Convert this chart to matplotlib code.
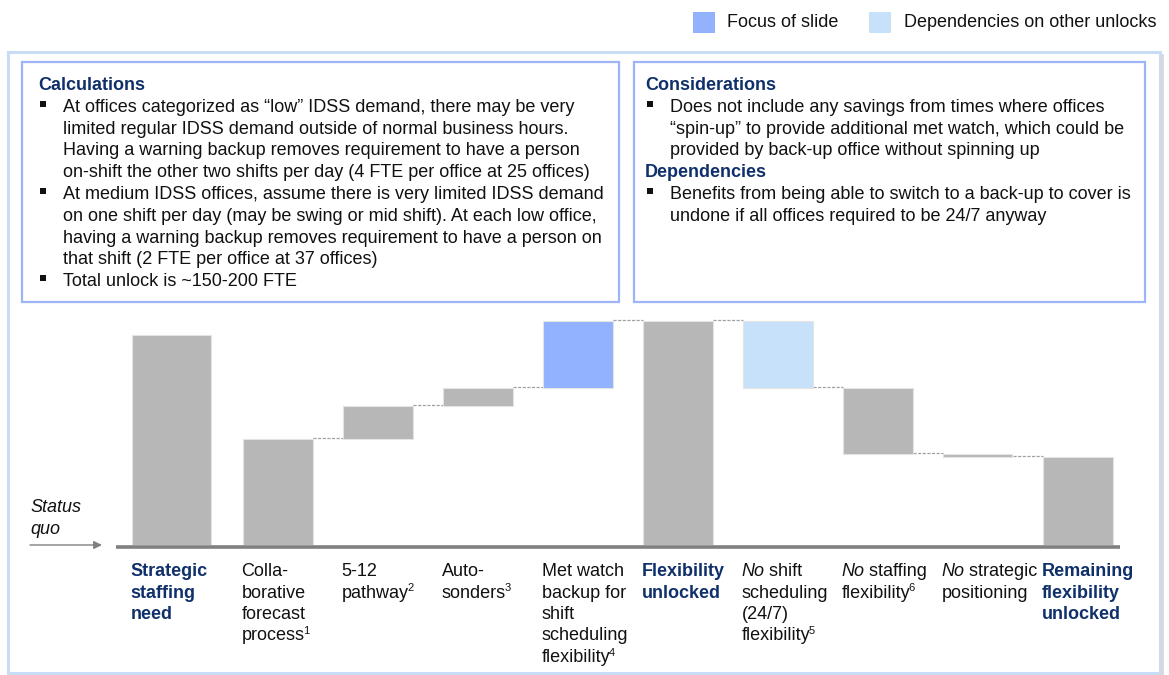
import matplotlib
matplotlib.use('Agg')
import matplotlib.pyplot as plt
from matplotlib.patches import Rectangle
import numpy as np

# ---------------- data ----------------
# "_No_" marks italic text, "^n" marks a footnote superscript
categories = [
    "Strategic\nstaffing\nneed",
    "Colla-\nborative\nforecast\nprocess^1",
    "5-12\npathway^2",
    "Auto-\nsonders^3",
    "Met watch\nbackup for\nshift\nscheduling\nflexibility^4",
    "Flexibility\nunlocked",
    "_No_ shift\nscheduling\n(24/7)\nflexibility^5",
    "_No_ staffing\nflexibility^6",
    "_No_ strategic\npositioning",
    "Remaining\nflexibility\nunlocked",
]
kinds = ["total", "total", "delta", "delta", "delta", "total", "delta", "delta", "delta", "total"]
values = [210, 106, 33, 18, 67, 224, -67, -66, -3, 88]
roles = ["base", "base", "base", "base", "focus", "base", "dependency", "base", "base", "base"]
bold_labels = [True, False, False, False, False, True, False, False, False, True]

legend_labels = ["Focus of slide", "Dependencies on other unlocks"]

calc_title = "Calculations"
calc_bullets = [
    ["At offices categorized as \u201clow\u201d IDSS demand, there may be very",
     "limited regular IDSS demand outside of normal business hours.",
     "Having a warning backup removes requirement to have a person",
     "on-shift the other two shifts per day (4 FTE per office at 25 offices)"],
    ["At medium IDSS offices, assume there is very limited IDSS demand",
     "on one shift per day (may be swing or mid shift). At each low office,",
     "having a warning backup removes requirement to have a person on",
     "that shift (2 FTE per office at 37 offices)"],
    ["Total unlock is ~150-200 FTE"],
]
cons_title = "Considerations"
cons_bullets = [
    ["Does not include any savings from times where offices",
     "\u201cspin-up\u201d to provide additional met watch, which could be",
     "provided by back-up office without spinning up"],
]
dep_title = "Dependencies"
dep_bullets = [
    ["Benefits from being able to switch to a back-up to cover is",
     "undone if all offices required to be 24/7 anyway"],
]

# ---------------- style ----------------
W, H = 1169, 675
plt.rcParams['font.family'] = ['Liberation Sans', 'DejaVu Sans']

NAVY = '#10306B'
TXT = '#111111'
GRAY = '#B7B7B7'
FOCUS = '#92B1FF'
DEP = '#C8E1FA'
role_color = {"base": GRAY, "focus": FOCUS, "dependency": DEP}
FS = 13

fig = plt.figure(figsize=(W / 100, H / 100), dpi=100)
ov = fig.add_axes([0, 0, 1, 1])
ov.set_xlim(0, W)
ov.set_ylim(H, 0)
ov.axis('off')
fig.canvas.draw()
renderer = fig.canvas.get_renderer()

# frames
ov.plot([1162, 1162], [55, 675], color='#D8D8D8', lw=2.0)
ov.add_patch(Rectangle((8, 52), 1152, 621, fill=False, ec='#C9DCF5', lw=2.2))
ov.add_patch(Rectangle((22, 62), 597, 240, fc='white', ec='#9DB5F7', lw=1.6))
ov.add_patch(Rectangle((634, 62), 511, 240, fc='white', ec='#9DB5F7', lw=1.6))

# legend
for (x0, tx), lab, col in zip([(693, 727), (869, 904)], legend_labels, [FOCUS, DEP]):
    ov.add_patch(Rectangle((x0, 12), 22, 21, fc=col, ec='none'))
    ov.text(tx, 22.5, lab, fontsize=FS, color=TXT, va='center', ha='left')

LS = 21.8
BASE_OFF = 6


def write_block(x_title, x_bul, x_txt, y, title, bullets):
    ov.text(x_title, y + BASE_OFF, title, fontsize=FS, color=NAVY, weight='bold',
            va='baseline', ha='left')
    y += LS
    for b in bullets:
        ov.add_patch(Rectangle((x_bul, y - 5), 6, 6, fc=TXT, ec='none'))
        for line in b:
            ov.text(x_txt, y + BASE_OFF, line, fontsize=FS, color=TXT,
                    va='baseline', ha='left')
            y += LS
    return y


write_block(38, 40, 63, 84, calc_title, calc_bullets)
yy = write_block(645, 647, 670, 84, cons_title, cons_bullets)
write_block(645, 647, 670, yy, dep_title, dep_bullets)

# ---------------- waterfall ----------------
n = len(values)
xpos = np.arange(n, dtype=float)
xpos[0] = -0.065
widths = np.full(n, 0.70)
widths[0] = 0.79

bottoms, heights, ends = [], [], []
level = 0.0
for k, v in zip(kinds, values):
    if k == "total":
        bottoms.append(0.0)
        heights.append(v)
        level = v
    else:
        bottoms.append(level)
        heights.append(v)
        level = level + v
    ends.append(level)

base_px, top_px = 545, 300
left_px, right_px = 116, 1120
ax = fig.add_axes([left_px / W, (H - base_px) / H, (right_px - left_px) / W,
                   (base_px - top_px) / H])
ax.set_ylim(0, base_px - top_px)
ax.set_xlim(1 - (277.5 - left_px) / 100, 1 + (right_px - 277.5) / 100)
ax.axis('off')
ax.patch.set_alpha(0)

ax.bar(xpos, heights, bottom=bottoms, width=widths,
       color=[role_color[r] for r in roles], edgecolor='#E4E4E4', linewidth=0.8,
       zorder=2)

# connectors
for i in range(n - 1):
    lvl = ends[i]
    nxt_start = values[i + 1] if kinds[i + 1] == "total" else lvl
    if abs(nxt_start - lvl) < 1e-6:
        ax.plot([xpos[i] + widths[i] / 2, xpos[i + 1] - widths[i + 1] / 2],
                [lvl + 1, lvl + 1], color='#A0A0A0', lw=0.9,
                linestyle=(0, (2.5, 1.2)), zorder=1)

ax.plot(ax.get_xlim(), [-1.6, -1.6], color='#808080', lw=2.6,
        solid_capstyle='butt', clip_on=False, zorder=3)

# status quo
ov.text(30, 506 + BASE_OFF, 'Status', fontsize=FS, style='italic', color=TXT,
        va='baseline')
ov.text(30, 528 + BASE_OFF, 'quo', fontsize=FS, style='italic', color=TXT,
        va='baseline')
ov.annotate('', xy=(102, 545), xytext=(30, 545),
            arrowprops=dict(arrowstyle='-|>', color='#808080', lw=1.0,
                            mutation_scale=12, shrinkA=0, shrinkB=0))


# category labels (segments drawn side by side)
def draw_segments(x, y, segs, color, weight):
    """x, y in overlay pixel coords (y down). segs: list of (text, kind)."""
    cx = x
    for txt, kind in segs:
        if kind == 'sup':
            t = ov.text(cx - 1.5, y - 6.5, txt, fontsize=FS * 0.62, color=color,
                        weight=weight, va='baseline', ha='left')
        else:
            t = ov.text(cx, y, txt, fontsize=FS, color=color, weight=weight,
                        style='italic' if kind == 'it' else 'normal',
                        va='baseline', ha='left')
        bb = t.get_window_extent(renderer)
        cx += bb.width


def parse(line):
    segs = []
    if line.startswith('_'):
        end = line.index('_', 1)
        segs.append((line[1:end], 'it'))
        line = line[end + 1:]
    sup = None
    if '^' in line:
        line, sup = line.split('^')
    segs.append((line, 'rm'))
    if sup:
        segs.append((sup, 'sup'))
    return segs


for i, lab in enumerate(categories):
    x_left_px = ax.transData.transform((xpos[i] - widths[i] / 2, 0))[0] - 1
    for j, line in enumerate(lab.split('\n')):
        draw_segments(x_left_px, 570 + 21.5 * j + BASE_OFF, parse(line),
                      NAVY if bold_labels[i] else TXT,
                      'bold' if bold_labels[i] else 'normal')

fig.savefig('out.png', dpi=100)
